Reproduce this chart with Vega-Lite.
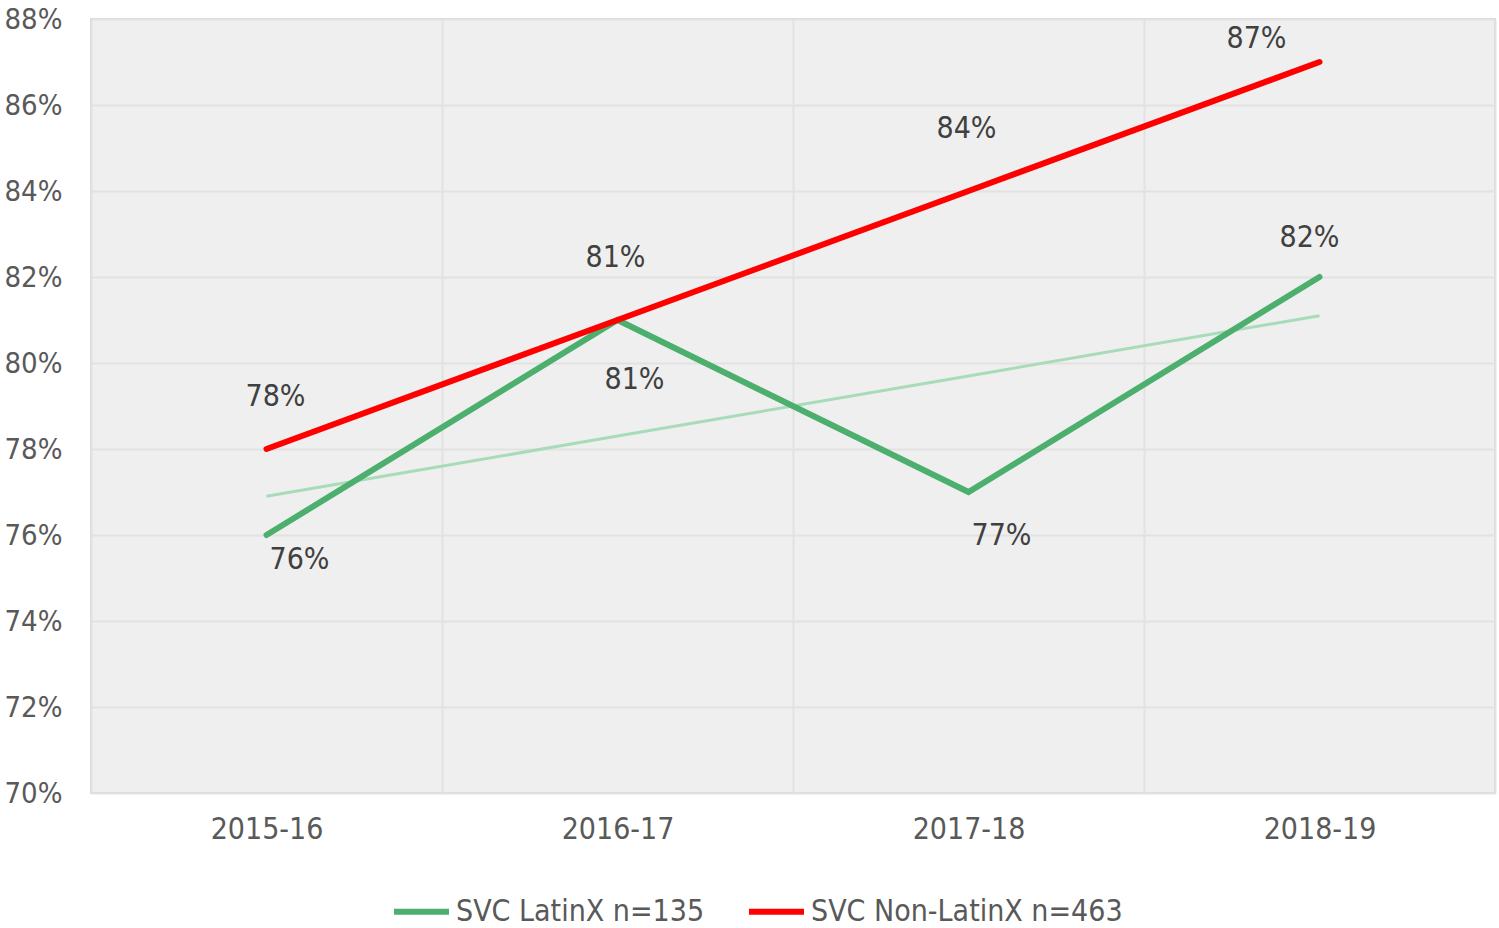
{
  "$schema": "https://vega.github.io/schema/vega-lite/v6.json",
  "autosize": {"type": "none"},
  "padding": {"left": 91, "top": 19, "right": 4, "bottom": 135},
  "width": 1404,
  "height": 774,
  "background": "white",
  "config": {
    "font": "DejaVu Sans Condensed",
    "view": {"fill": "#efefef", "stroke": "#d9d9d9", "strokeWidth": 2},
    "axis": {"labelFont": "DejaVu Sans Condensed", "labelFontSize": 30, "labelColor": "#595959", "gridColor": "#e2e2e2", "gridWidth": 2, "domain": false, "ticks": false, "title": null}
  },
  "datasets": {
    "main": [
      {"year": "2015-16", "series": "SVC LatinX n=135", "value": 0.76},
      {"year": "2016-17", "series": "SVC LatinX n=135", "value": 0.81},
      {"year": "2017-18", "series": "SVC LatinX n=135", "value": 0.77},
      {"year": "2018-19", "series": "SVC LatinX n=135", "value": 0.82},
      {"year": "2015-16", "series": "SVC Non-LatinX n=463", "value": 0.78},
      {"year": "2016-17", "series": "SVC Non-LatinX n=463", "value": 0.81},
      {"year": "2017-18", "series": "SVC Non-LatinX n=463", "value": 0.84},
      {"year": "2018-19", "series": "SVC Non-LatinX n=463", "value": 0.87}
    ],
    "trend": [
      {"year": "2015-16", "value": 0.769},
      {"year": "2016-17", "value": 0.783},
      {"year": "2017-18", "value": 0.797},
      {"year": "2018-19", "value": 0.811}
    ]
  },
  "encoding": {
    "x": {"field": "year", "type": "nominal", "bandPosition": 0.5,
      "scale": {"type": "band", "paddingInner": 0, "paddingOuter": 0, "domain": ["2015-16", "2016-17", "2017-18", "2018-19"]},
      "axis": {"tickBand": "extent", "grid": true, "labelPadding": 21, "labelAngle": 0}},
    "y": {"field": "value", "type": "quantitative",
      "scale": {"domain": [0.70, 0.88], "nice": false, "zero": false},
      "axis": {"values": [0.70, 0.72, 0.74, 0.76, 0.78, 0.80, 0.82, 0.84, 0.86, 0.88], "format": ".0%", "labelPadding": 29, "labelFontSize": 29}}
  },
  "layer": [
    {"data": {"name": "trend"}, "mark": {"type": "line", "color": "#a8dcb9", "strokeWidth": 3}},
    {"data": {"name": "main"}, "mark": {"type": "line", "strokeWidth": 6, "strokeCap": "round", "strokeJoin": "miter"},
      "encoding": {"color": {"field": "series", "type": "nominal",
        "scale": {"domain": ["SVC LatinX n=135", "SVC Non-LatinX n=463"], "range": ["#4caf6e", "#ff0000"]},
        "legend": {"orient": "none", "legendX": 300, "legendY": 862, "direction": "horizontal", "title": null, "symbolType": "stroke", "symbolSize": 3025, "symbolStrokeWidth": 6, "labelFontSize": 30, "labelColor": "#595959", "labelFont": "DejaVu Sans Condensed", "labelOffset": 4, "columnPadding": 32, "labelLimit": 500}}}},
    {"data": {"name": "main"}, "transform": [{"filter": "datum.series == 'SVC Non-LatinX n=463' && (datum.year == '2016-17' || datum.year == '2017-18')"}],
      "mark": {"type": "text", "fontSize": 30, "color": "#404040", "dy": -62, "dx": -2},
      "encoding": {"text": {"field": "value", "format": ".0%"}}},
    {"data": {"name": "main"}, "transform": [{"filter": "datum.series == 'SVC Non-LatinX n=463' && datum.year == '2015-16'"}],
      "mark": {"type": "text", "fontSize": 30, "color": "#404040", "dy": -52, "dx": 9},
      "encoding": {"text": {"field": "value", "format": ".0%"}}},
    {"data": {"name": "main"}, "transform": [{"filter": "datum.series == 'SVC Non-LatinX n=463' && datum.year == '2018-19'"}],
      "mark": {"type": "text", "fontSize": 30, "color": "#404040", "dy": -23, "dx": -63},
      "encoding": {"text": {"field": "value", "format": ".0%"}}},
    {"data": {"name": "main"}, "transform": [{"filter": "datum.series == 'SVC LatinX n=135' && datum.year == '2015-16'"}],
      "mark": {"type": "text", "fontSize": 30, "color": "#404040", "dy": 25, "dx": 33},
      "encoding": {"text": {"field": "value", "format": ".0%"}}},
    {"data": {"name": "main"}, "transform": [{"filter": "datum.series == 'SVC LatinX n=135' && datum.year == '2016-17'"}],
      "mark": {"type": "text", "fontSize": 30, "color": "#404040", "dy": 60, "dx": 17},
      "encoding": {"text": {"field": "value", "format": ".0%"}}},
    {"data": {"name": "main"}, "transform": [{"filter": "datum.series == 'SVC LatinX n=135' && datum.year == '2017-18'"}],
      "mark": {"type": "text", "fontSize": 30, "color": "#404040", "dy": 44, "dx": 33},
      "encoding": {"text": {"field": "value", "format": ".0%"}}},
    {"data": {"name": "main"}, "transform": [{"filter": "datum.series == 'SVC LatinX n=135' && datum.year == '2018-19'"}],
      "mark": {"type": "text", "fontSize": 30, "color": "#404040", "dy": -39, "dx": -10},
      "encoding": {"text": {"field": "value", "format": ".0%"}}}
  ]
}
